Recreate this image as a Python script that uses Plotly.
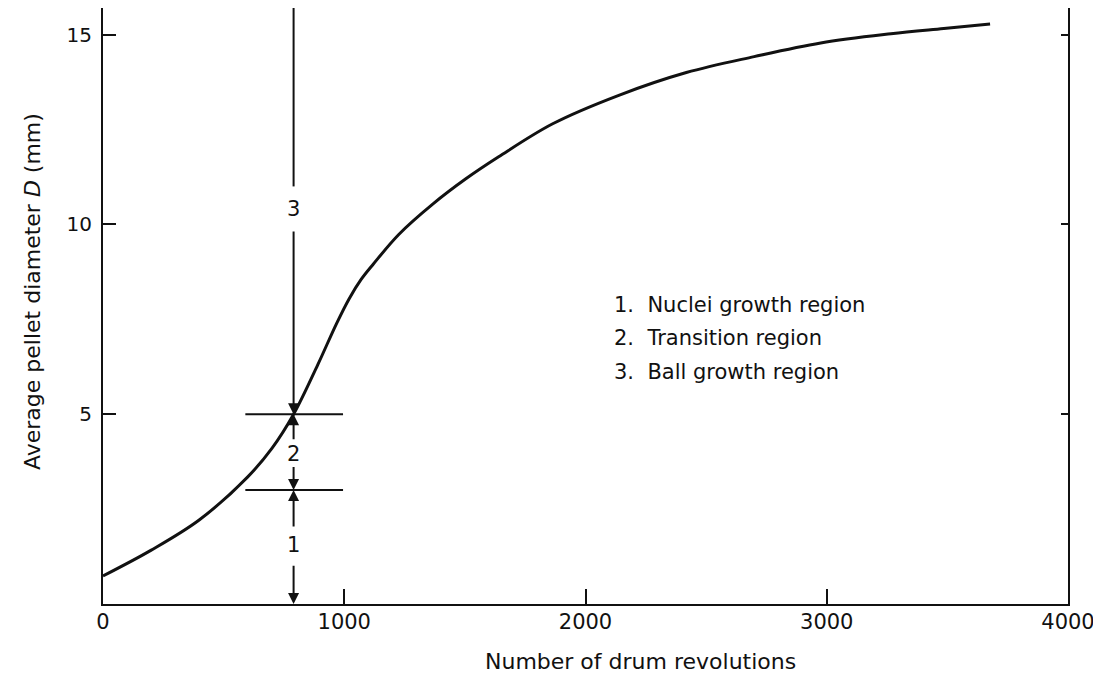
import plotly.graph_objects as go

# Curve
revolutions = [0, 200, 400, 600, 700, 790, 890, 969, 1021, 1070, 1120, 1227, 1368, 1504,
               1640, 1864, 2138, 2418, 2699, 2975, 3266, 3485, 3677]
diameter = [0.74, 1.42, 2.22, 3.35, 4.1, 5.0, 6.3, 7.4, 8.05, 8.55, 8.95, 9.74, 10.54, 11.2,
            11.78, 12.65, 13.4, 14.0, 14.42, 14.78, 15.02, 15.16, 15.28]

# Tick labels
x_ticks = [0, 1000, 2000, 3000, 4000]
x_ticktext = ["0", "1000", "2000", "3000", "4000"]
y_ticks = [5, 10, 15]
y_ticktext = ["5", "10", "15"]

# Region markers
marker_x = 790
region_bounds = [0, 3.0, 5.0]          # boundaries between regions 1/2/3
bound_line_x = [590, 995]
region_labels = ["1", "2", "3"]
region_label_y = [1.55, 3.95, 10.4]
legend_lines = ["1.  Nuclei growth region", "2.  Transition region", "3.  Ball growth region"]

x_title = "Number of drum revolutions"
y_title = "Average pellet diameter <i>D</i> (mm)"

FONT = "DejaVu Sans"
INK = "#111111"
Y_TOP = 15.7

fig = go.Figure()
fig.add_trace(go.Scatter(x=revolutions, y=diameter, mode="lines",
                         line=dict(color=INK, width=3, shape="spline", smoothing=1.0),
                         hoverinfo="skip", showlegend=False))
# invisible trace to anchor the right-hand axis
fig.add_trace(go.Scatter(x=[revolutions[0]], y=[diameter[0]], yaxis="y2", mode="markers",
                         marker=dict(opacity=0), hoverinfo="skip", showlegend=False))

shapes = []
for yb in region_bounds[1:]:
    shapes.append(dict(type="line", xref="x", yref="y", x0=bound_line_x[0], x1=bound_line_x[1],
                       y0=yb, y1=yb, line=dict(color=INK, width=2)))
shapes.append(dict(type="line", xref="x", yref="y", x0=marker_x, x1=marker_x,
                   y0=region_label_y[2] + 0.6, y1=Y_TOP, line=dict(color=INK, width=2)))

annotations = []
def arrow(y_from, y_to):
    annotations.append(dict(x=marker_x, y=y_to, ax=marker_x, ay=y_from, xref="x", yref="y",
                            axref="x", ayref="y", text="", showarrow=True, arrowhead=2,
                            arrowsize=1.1, arrowwidth=2, arrowcolor=INK))

arrow(region_label_y[2] - 0.55, region_bounds[2])
arrow(region_label_y[1] + 0.35, region_bounds[2])
arrow(region_label_y[1] - 0.3, region_bounds[1])
arrow(region_label_y[0] + 0.45, region_bounds[1])
arrow(region_label_y[0] - 0.5, region_bounds[0])

for lab, ly in zip(region_labels, region_label_y):
    annotations.append(dict(x=marker_x, y=ly, xref="x", yref="y", text=lab, showarrow=False,
                            font=dict(family=FONT, size=21, color=INK)))

legend_y = [0.5017, 0.4463, 0.3893]
for txt, ly in zip(legend_lines, legend_y):
    annotations.append(dict(x=0.5275, y=ly, xref="paper", yref="paper", text=txt,
                            showarrow=False, xanchor="left", yanchor="middle",
                            font=dict(family=FONT, size=21, color=INK)))

annotations.append(dict(x=0.5565, y=-0.097, xref="paper", yref="paper", text=x_title,
                        showarrow=False, xanchor="center", yanchor="middle",
                        font=dict(family=FONT, size=22, color=INK)))
annotations.append(dict(x=-0.0725, y=0.5235, xref="paper", yref="paper", text=y_title,
                        showarrow=False, xanchor="center", yanchor="middle", textangle=-90,
                        font=dict(family=FONT, size=22, color=INK)))

fig.update_layout(
    width=1093, height=665,
    margin=dict(l=95, r=33, t=0, b=69),
    paper_bgcolor="white", plot_bgcolor="white",
    shapes=shapes, annotations=annotations,
    xaxis=dict(range=[0, 4000], tickvals=x_ticks, ticktext=x_ticktext, ticks="inside",
               ticklen=15, tickwidth=2, tickcolor=INK, showline=True, linewidth=2,
               linecolor=INK, showgrid=False, zeroline=False, ticklabelstandoff=-2,
               tickfont=dict(family=FONT, size=21, color=INK)),
    yaxis=dict(range=[0, Y_TOP], tickvals=y_ticks, ticktext=y_ticktext, ticks="inside",
               ticklen=13, tickwidth=2, tickcolor=INK, showline=True, linewidth=2,
               linecolor=INK, showgrid=False, zeroline=False,
               ticklabelstandoff=5, tickfont=dict(family=FONT, size=20, color=INK)),
    yaxis2=dict(range=[0, Y_TOP], tickvals=y_ticks, overlaying="y", side="right",
                ticks="inside", ticklen=7, tickwidth=2, tickcolor=INK, showline=True,
                linewidth=2, linecolor=INK, showgrid=False, zeroline=False,
                showticklabels=False),
)

fig.write_html("out.html")
